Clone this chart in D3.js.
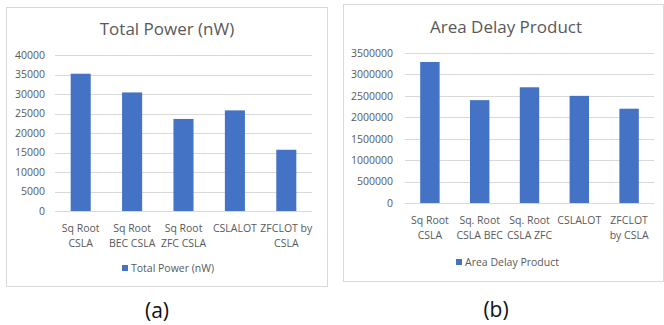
<!DOCTYPE html>
<html><head><meta charset="utf-8">
<script src="https://cdn.jsdelivr.net/npm/d3@7"></script>
<style>body{margin:0;background:#fff;} svg{display:block;font-family:"Open Sans",sans-serif;}</style>
</head><body>
<svg id="c" width="664" height="325"></svg>
<script>
const categoriesA = [["Sq Root","CSLA"],["Sq Root","BEC CSLA"],["Sq Root","ZFC CSLA"],["CSLALOT"],["ZFCLOT by","CSLA"]];
const valuesA = [35200, 30400, 23600, 25800, 15700];
const ticksA = [0,5000,10000,15000,20000,25000,30000,35000,40000];
const titleA = "Total Power (nW)";
const legendA = "Total Power (nW)";
const captionA = "(a)";

const categoriesB = [["Sq Root","CSLA"],["Sq. Root","CSLA BEC"],["Sq. Root","CSLA ZFC"],["CSLALOT"],["ZFCLOT","by CSLA"]];
const valuesB = [3290000, 2400000, 2700000, 2500000, 2200000];
const ticksB = [0,500000,1000000,1500000,2000000,2500000,3000000,3500000];
const titleB = "Area Delay Product";
const legendB = "Area Delay Product";
const captionB = "(b)";

const svg = d3.select("#c");
const TXT = "#595959", BAR = "#4472c4", GRID = "#d9d9d9";

function drawChart(o){
  const g = svg.append("g");
  g.append("rect").attr("x",o.box[0]+0.5).attr("y",o.box[1]+0.5).attr("width",o.box[2]).attr("height",o.box[3])
    .attr("fill","#fff").attr("stroke","#d9d9d9").attr("stroke-width",1);
  const x = d3.scaleBand().domain(o.cats.map((d,i)=>i)).range([o.x0,o.x1]).paddingInner(0.61).paddingOuter(0.305);
  const y = d3.scaleLinear().domain([0,o.ticks[o.ticks.length-1]]).range([o.y0,o.y1]);
  g.append("g").selectAll("line").data(o.ticks).join("line")
    .attr("x1",o.x0).attr("x2",o.x1).attr("y1",d=>Math.round(y(d))+0.5).attr("y2",d=>Math.round(y(d))+0.5)
    .attr("stroke",GRID).attr("stroke-width",1);
  const ax = g.append("g").attr("transform",`translate(${o.x0},0)`)
    .call(d3.axisLeft(y).tickValues(o.ticks).tickFormat(d3.format("d")).tickSize(0).tickPadding(o.x0-o.labR));
  ax.select(".domain").remove();
  ax.selectAll("text").attr("fill",TXT).style("font-size","10.5px").style("font-family","'Open Sans',sans-serif");
  g.append("g").selectAll("rect").data(o.vals).join("rect")
    .attr("x",(d,i)=>x(i)).attr("width",x.bandwidth()).attr("y",d=>y(d)).attr("height",d=>o.y0-y(d)).attr("fill",BAR);
  const xl = g.append("g").selectAll("text").data(o.cats).join("text")
    .attr("text-anchor","middle").attr("fill",TXT).style("font-size","10.5px")
    .attr("transform",(d,i)=>`translate(${x(i)+x.bandwidth()/2},${o.labY})`);
  xl.selectAll("tspan").data(d=>d).join("tspan").attr("x",0).attr("dy",(d,j)=>j===0?0:15).text(d=>d);
  g.append("text").attr("x",o.titleX).attr("y",o.titleY).attr("text-anchor","middle").attr("fill",TXT)
    .style("font-size","17px").text(o.title);
  g.append("rect").attr("x",o.legX).attr("y",o.legY-7).attr("width",6).attr("height",6).attr("fill",BAR);
  g.append("text").attr("x",o.legX+9).attr("y",o.legY).attr("fill",TXT).style("font-size","10.5px").text(o.legend);
  svg.append("text").attr("x",o.capX).attr("y",o.capY).attr("text-anchor","middle").attr("fill","#111")
    .style("font-size","21px").text(o.caption);
}

drawChart({box:[6,7,321,279], x0:55, x1:312, y0:211, y1:55, labR:45, cats:categoriesA, vals:valuesA, ticks:ticksA,
  labY:232, title:titleA, titleX:167, titleY:35, legend:legendA, legX:122, legY:272, caption:captionA, capX:157, capY:318});
drawChart({box:[343,4,320,277], x0:405, x1:654, y0:203, y1:53, labR:393, cats:categoriesB, vals:valuesB, ticks:ticksB,
  labY:224, title:titleB, titleX:506, titleY:33, legend:legendB, legX:456, legY:266, caption:captionB, capX:496, capY:317});
</script>
</body></html>
